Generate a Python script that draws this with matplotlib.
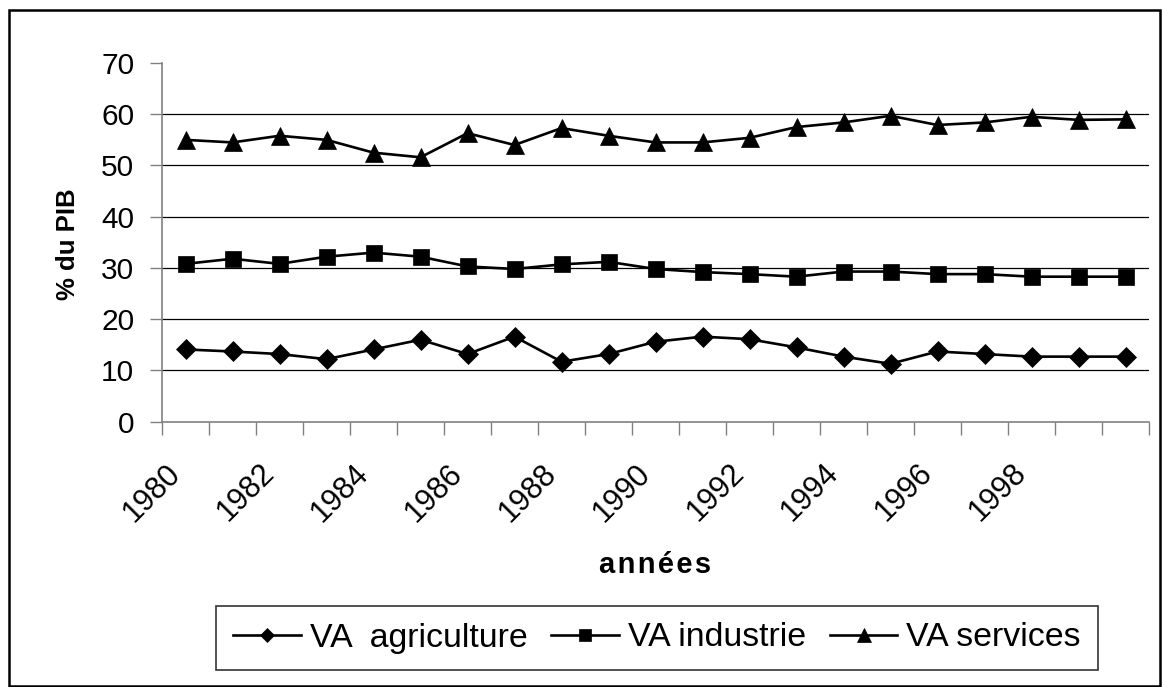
# -*- coding: utf-8 -*-
"""
Valeur ajoutée par secteur (% du PIB), 1980-2000.
Reproduction d'un graphique Excel, style noir et blanc.
"""

import numpy as np
import matplotlib
matplotlib.use("Agg")
import matplotlib.pyplot as plt
from matplotlib.patches import Rectangle
from matplotlib.transforms import ScaledTranslation

# --- DONNEES ---
annees = list(range(1980, 2001))
va_agriculture = [14.1, 13.7, 13.2, 12.2, 14.1, 16.0, 13.2, 16.6, 11.7, 13.2, 15.6,
                  16.6, 16.1, 14.5, 12.7, 11.3, 13.7, 13.2, 12.7, 12.7, 12.7]
va_industrie = [30.8, 31.8, 30.8, 32.2, 33.0, 32.2, 30.3, 29.8, 30.7, 31.2, 29.8,
                29.2, 28.8, 28.3, 29.3, 29.3, 28.8, 28.8, 28.3, 28.3, 28.3]
va_services = [55.0, 54.5, 55.8, 55.0, 52.5, 51.6, 56.3, 54.0, 57.3, 55.8, 54.5,
               54.5, 55.4, 57.5, 58.4, 59.7, 57.9, 58.4, 59.5, 58.9, 59.0]
series_labels = ['VA  agriculture', 'VA industrie', 'VA services']
y_ticks = [0, 10, 20, 30, 40, 50, 60, 70]

# --- CONFIGURATION GRAPHIQUE ---
plt.rcParams['font.family'] = ['Liberation Sans', 'DejaVu Sans']
W, H, DPI = 1162, 687, 100
GRIS = '#808080'

fig = plt.figure(figsize=(W / DPI, H / DPI), dpi=DPI)
ax = fig.add_axes([162 / W, 1 - 421.7 / H, (1149 - 162) / W, (421.7 - 63) / H])

x = np.arange(len(annees))
ax.plot(x, va_agriculture, color='black', lw=1.9, marker='D', ms=10,
        mec='black', mew=0.5, label=series_labels[0], zorder=3)
ax.plot(x, va_industrie, color='black', lw=1.9, marker='s', ms=12,
        mec='black', mew=0.5, label=series_labels[1], zorder=3)
ax.plot(x, va_services, color='black', lw=1.9, marker='^', ms=13.5,
        mec='black', mew=0.5, label=series_labels[2], zorder=3)

# axes
ax.set_xlim(-0.5, len(annees) - 0.5)
ax.set_ylim(y_ticks[0], y_ticks[-1])

for s in ['top', 'right']:
    ax.spines[s].set_visible(False)
for s in ['left', 'bottom']:
    ax.spines[s].set_color(GRIS)
    ax.spines[s].set_linewidth(1.2)

# lignes de grille (sauf 0 et 70)
for v in y_ticks[1:-1]:
    ax.axhline(v, color='black', lw=0.9, zorder=1)

ax.set_yticks(y_ticks)
ax.tick_params(axis='y', direction='out', length=9, width=1, color=GRIS,
               labelsize=21.5, pad=11)

# axe des catégories : traits entre les catégories, libellés 1 sur 2
ax.set_xticks(np.arange(-0.5, len(annees), 1))
ax.set_xticklabels([])
ax.tick_params(axis='x', which='major', direction='out', length=9, width=1, color=GRIS)
ax.set_xticks(x[::2][:-1], minor=True)
ax.set_xticklabels([str(a) for a in annees[::2][:-1]], minor=True,
                   rotation=45, ha='right', va='center', rotation_mode='anchor')
ax.tick_params(axis='x', which='minor', length=0, labelsize=22, pad=34)
decal = ScaledTranslation(-7 / 72, 0, fig.dpi_scale_trans)
for lab in ax.get_xticklabels(minor=True):
    lab.set_transform(lab.get_transform() + decal)

# titres des axes
fig.text(68 / W, 1 - 244 / H, '% du PIB', rotation=90, ha='center', va='center',
         fontsize=18.5, fontweight='bold')
fig.text(655 / W, 1 - 565 / H, '\u200a'.join('années'), ha='center', va='center',
         fontsize=21, fontweight='bold')

# légende
leg = fig.legend(loc='center', bbox_to_anchor=(657 / W, 1 - 638 / H), ncol=3,
                 fontsize=24.4, frameon=True, fancybox=False, shadow=False,
                 handlelength=2.0, handletextpad=0.26, columnspacing=0.7,
                 markerscale=0.75, borderpad=0.5)
leg.get_frame().set_edgecolor('black')
leg.get_frame().set_linewidth(1.2)

# cadre autour de la figure
fig.patches.append(Rectangle((9 / W, 1 / H), (1160 - 9) / W, (686 - 10) / H,
                             transform=fig.transFigure, fill=False,
                             edgecolor='black', lw=1.8))

fig.savefig('out.png', dpi=DPI)
print("Salvo: out.png")
